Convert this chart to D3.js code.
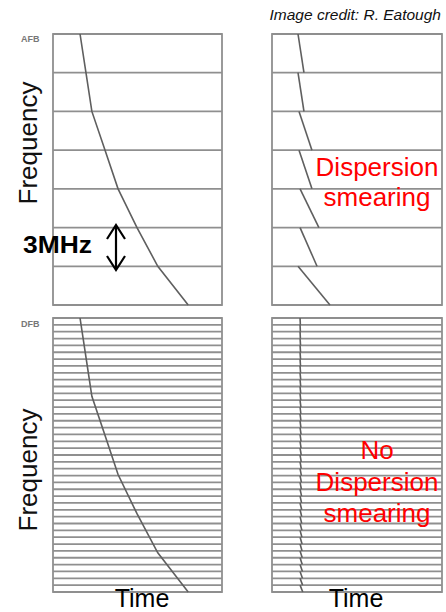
<!DOCTYPE html>
<html>
<head>
<meta charset="utf-8">
<script src="https://cdn.jsdelivr.net/npm/d3@7"></script>
<style>
  html, body { margin: 0; padding: 0; background: #fff; }
  svg { display: block; }
  text { font-family: "Liberation Sans", Arial, sans-serif; }
</style>
</head>
<body>
<svg id="chart" width="446" height="612"></svg>
<script>
// ---------------- DATA ----------------
// Frequency offset (MHz) at band edges, top (high) to bottom (low); 7 bands of 3 MHz
const bandEdges = [21, 18, 15, 12, 9, 6, 3, 0];
// Dispersed pulse: arrival time (arbitrary units 0-100) at each band edge
const curveTime = [16, 19.5, 23, 30.8, 38.5, 49.7, 62, 80];
// Incoherent dedispersion (AFB): each band shifted, start/end time of residual smear
const afbStart = [15.3, 15.3, 15.9, 15.9, 16.5, 16.5, 15.3];
const afbEnd   = [18.8, 18.8, 23.5, 23.5, 27.6, 26.5, 34.1];
// Coherent dedispersion (DFB): 40 narrow channels, residual smear in each
const dfbChannels = 40;
const dfbStart = 16.5;
const dfbSmear = [0.2, 0.2, 0.2, 0.3, 0.3, 0.3, 0.3, 0.3, 0.4, 0.4,
                  0.4, 0.4, 0.5, 0.5, 0.5, 0.5, 0.6, 0.6, 0.6, 0.7,
                  0.7, 0.7, 0.8, 0.8, 0.8, 0.9, 0.9, 1.0, 1.0, 1.0,
                  1.1, 1.1, 1.2, 1.2, 1.3, 1.3, 1.4, 1.4, 1.5, 1.6];
const timeDomain = [0, 100];

// ---------------- LAYOUT ----------------
const svg = d3.select("#chart");
const gridColor = "#8f8f8f";
const curveColor = "#5f5f5f";

const panels = {
  afbLeft:  { x0: 53,  x1: 222, y0: 34,  y1: 305 },
  afbRight: { x0: 272, x1: 442, y0: 34,  y1: 305 },
  dfbLeft:  { x0: 53,  x1: 222, y0: 318, y1: 592 },
  dfbRight: { x0: 272, x1: 442, y0: 318, y1: 592 }
};

function scalesFor(p) {
  return {
    x: d3.scaleLinear().domain(timeDomain).range([p.x0, p.x1]),
    y: d3.scaleLinear().domain([bandEdges[0], bandEdges[bandEdges.length - 1]]).range([p.y0, p.y1])
  };
}

function drawGrid(p, edges) {
  const s = scalesFor(p);
  const g = svg.append("g");
  g.selectAll("line.h").data(edges).join("line")
    .attr("x1", p.x0).attr("x2", p.x1)
    .attr("y1", d => s.y(d)).attr("y2", d => s.y(d))
    .attr("stroke", gridColor).attr("stroke-width", 1.8);
  g.append("rect")
    .attr("x", p.x0).attr("y", p.y0)
    .attr("width", p.x1 - p.x0).attr("height", p.y1 - p.y0)
    .attr("fill", "none").attr("stroke", gridColor).attr("stroke-width", 1.8);
  return s;
}

// channel edges for DFB panels
const fHi = bandEdges[0], fLo = bandEdges[bandEdges.length - 1];
const dfbEdges = d3.range(dfbChannels + 1).map(i => fHi - (fHi - fLo) * i / dfbChannels);

const pts = bandEdges.map((f, i) => ({ f, t: curveTime[i] }));

// --- AFB dispersed ---
{
  const s = drawGrid(panels.afbLeft, bandEdges);
  const line = d3.line().x(d => s.x(d.t)).y(d => s.y(d.f));
  svg.append("path").datum(pts).attr("d", line)
    .attr("fill", "none").attr("stroke", curveColor).attr("stroke-width", 1.6);
}
// --- AFB dedispersed ---
{
  const s = drawGrid(panels.afbRight, bandEdges);
  const segs = afbStart.map((st, i) => ({ st, en: afbEnd[i], fTop: bandEdges[i], fBot: bandEdges[i + 1] }));
  svg.append("g").selectAll("line").data(segs).join("line")
    .attr("x1", d => s.x(d.st)).attr("y1", d => s.y(d.fTop))
    .attr("x2", d => s.x(d.en)).attr("y2", d => s.y(d.fBot))
    .attr("stroke", curveColor).attr("stroke-width", 1.6);
}
// --- DFB dispersed ---
{
  const s = drawGrid(panels.dfbLeft, dfbEdges);
  const line = d3.line().x(d => s.x(d.t)).y(d => s.y(d.f));
  svg.append("path").datum(pts).attr("d", line)
    .attr("fill", "none").attr("stroke", curveColor).attr("stroke-width", 1.6);
}
// --- DFB dedispersed ---
{
  const s = drawGrid(panels.dfbRight, dfbEdges);
  const segs = dfbSmear.map((sm, i) => ({ st: dfbStart, en: dfbStart + sm, fTop: dfbEdges[i], fBot: dfbEdges[i + 1] }));
  svg.append("g").selectAll("line").data(segs).join("line")
    .attr("x1", d => s.x(d.st)).attr("y1", d => s.y(d.fTop))
    .attr("x2", d => s.x(d.en)).attr("y2", d => s.y(d.fBot))
    .attr("stroke", curveColor).attr("stroke-width", 1.6);
}

// ---------------- TEXT ----------------
svg.append("text").attr("x", 441).attr("y", 20).attr("text-anchor", "end")
  .attr("font-size", 15.5).attr("font-style", "italic").attr("fill", "#111")
  .text("Image credit: R. Eatough");

svg.append("text").attr("x", 21).attr("y", 42)
  .attr("font-family", "Liberation Serif, serif").attr("font-weight", "bold")
  .attr("font-size", 9).attr("fill", "#777").text("AFB");
svg.append("text").attr("x", 21).attr("y", 327)
  .attr("font-family", "Liberation Serif, serif").attr("font-weight", "bold")
  .attr("font-size", 9).attr("fill", "#777").text("DFB");

[143, 470].forEach(cy => {
  svg.append("text").attr("transform", `translate(37,${cy}) rotate(-90)`)
    .attr("text-anchor", "middle").attr("font-size", 26).attr("fill", "#111")
    .text("Frequency");
});

svg.append("text").attr("x", 23).attr("y", 253)
  .attr("font-weight", "bold").attr("font-size", 23).attr("fill", "#000")
  .attr("textLength", 69).attr("lengthAdjust", "spacingAndGlyphs")
  .text("3MHz");

// double arrow
{
  const ax = 116, ay0 = 225, ay1 = 270, hw = 9, hh = 14;
  const g = svg.append("g").attr("stroke", "#000").attr("stroke-width", 2.2).attr("fill", "none");
  g.append("line").attr("x1", ax).attr("x2", ax).attr("y1", ay0 + 1).attr("y2", ay1 - 1);
  g.append("polyline").attr("points", `${ax - hw},${ay0 + hh} ${ax},${ay0} ${ax + hw},${ay0 + hh}`);
  g.append("polyline").attr("points", `${ax - hw},${ay1 - hh} ${ax},${ay1} ${ax + hw},${ay1 - hh}`);
}

const red = "#ff0000";
[["Dispersion", 176], ["smearing", 206]].forEach(([t, y]) => {
  svg.append("text").attr("x", 377).attr("y", y).attr("text-anchor", "middle")
    .attr("font-size", 26).attr("fill", red).text(t);
});
[["No", 459], ["Dispersion", 491], ["smearing", 522]].forEach(([t, y]) => {
  svg.append("text").attr("x", 377).attr("y", y).attr("text-anchor", "middle")
    .attr("font-size", 26).attr("fill", red).text(t);
});

[142, 356].forEach(cx => {
  svg.append("text").attr("x", cx).attr("y", 607).attr("text-anchor", "middle")
    .attr("font-size", 25).attr("fill", "#000").text("Time");
});
</script>
</body>
</html>
